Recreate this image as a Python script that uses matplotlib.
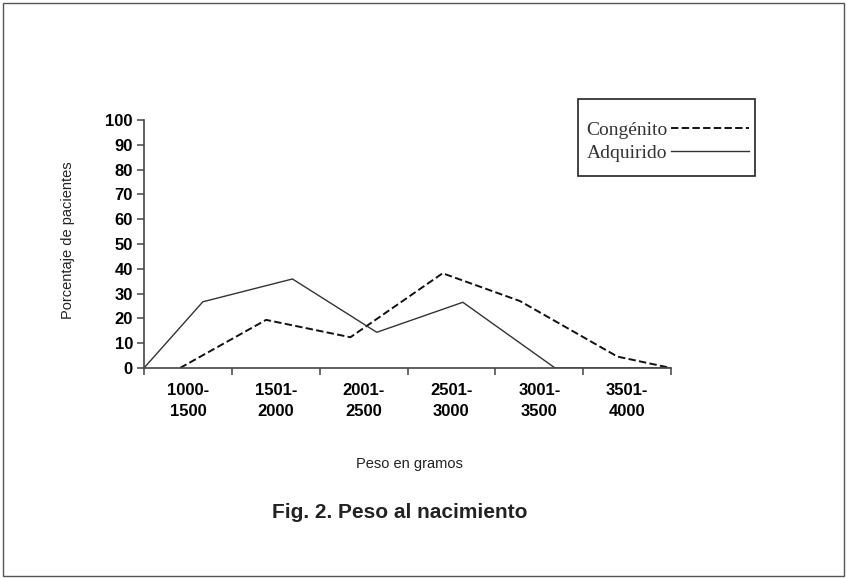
import numpy as np
import matplotlib
matplotlib.use('Agg')
import matplotlib.pyplot as plt
from matplotlib.patches import Rectangle

# Data (x in grams)
categorias = ['1000-\n1500', '1501-\n2000', '2001-\n2500', '2501-\n3000', '3001-\n3500', '3501-\n4000']
limites = [1000, 1500, 2000, 2500, 3000, 3500, 4000]

congenito_x = [1205, 1695, 2175, 2700, 3140, 3695, 4000]
congenito_y = [0, 19.4, 12.4, 38.2, 27.0, 4.6, 0]

adquirido_x = [1000, 1335, 1845, 2325, 2815, 3340, 4000]
adquirido_y = [0, 26.7, 35.9, 14.4, 26.5, 0, 0]

plt.rcParams['font.family'] = ['Liberation Sans', 'DejaVu Sans']

fig = plt.figure(figsize=(8.47, 5.78), dpi=100)
ax = fig.add_axes([144/847, 1-368/578, (671-144)/847, (368-120)/578])

ax.plot(congenito_x, congenito_y, color='#111111', lw=1.4, dashes=(3.8, 1.7), label='Congénito')
ax.plot(adquirido_x, adquirido_y, color='#333333', lw=1.0, label='Adquirido')

ax.set_xlim(1000, 4000)
ax.set_ylim(0, 100)
ax.set_yticks(np.arange(0, 101, 10))
ax.set_xticks(limites)
ax.set_xticklabels([])
centros = [(limites[i] + limites[i+1]) / 2 for i in range(len(categorias))]
ax.set_xticks(centros, minor=True)
ax.set_xticklabels(categorias, minor=True, fontsize=12, fontweight='bold', linespacing=1.45)
ax.tick_params(axis='x', which='minor', length=0, pad=11)
ax.tick_params(axis='x', which='major', length=5, width=1.1, color='#444444', direction='out')
ax.tick_params(axis='y', length=5, width=1.1, color='#444444', labelsize=12, pad=3)
for t in ax.get_yticklabels():
    t.set_fontweight('bold')

ax.spines['right'].set_visible(False)
ax.spines['top'].set_visible(False)
ax.spines['left'].set_color('#444444')
ax.spines['bottom'].set_color('#444444')
ax.spines['left'].set_linewidth(1.2)
ax.spines['bottom'].set_linewidth(1.2)

fig.text(68/847, 1-240/578, 'Porcentaje de pacientes', rotation=90, ha='center', va='center', fontsize=10.5, color='#222222')
fig.text(409/847, 1-464/578, 'Peso en gramos', ha='center', va='center', fontsize=10.5, color='#222222')
fig.text(400/847, 1-512/578, 'Fig. 2. Peso al nacimiento', ha='center', va='center', fontsize=15, fontweight='bold', color='#222222')

# legend: text first, line after, inside a hand-drawn box
leg = ax.legend(loc='upper left', bbox_to_anchor=(586/847, 1-121/578), bbox_transform=fig.transFigure,
                borderaxespad=0, markerfirst=False, frameon=False, handlelength=4.0,
                handletextpad=0.2, borderpad=0, labelspacing=0.3,
                prop={'family': 'Liberation Serif', 'size': 14})
for t in leg.get_texts():
    t.set_color('#333333')
fig.patches.append(Rectangle((578/847, 1-176/578), (755-578)/847, (176-99)/578, transform=fig.transFigure,
                             fill=False, edgecolor='#222222', lw=1.2))

fig.patches.append(Rectangle((0.003, 0.004), 0.994, 0.991, transform=fig.transFigure,
                             fill=False, edgecolor='#555555', lw=1.0))

fig.savefig('out.png', dpi=100)
